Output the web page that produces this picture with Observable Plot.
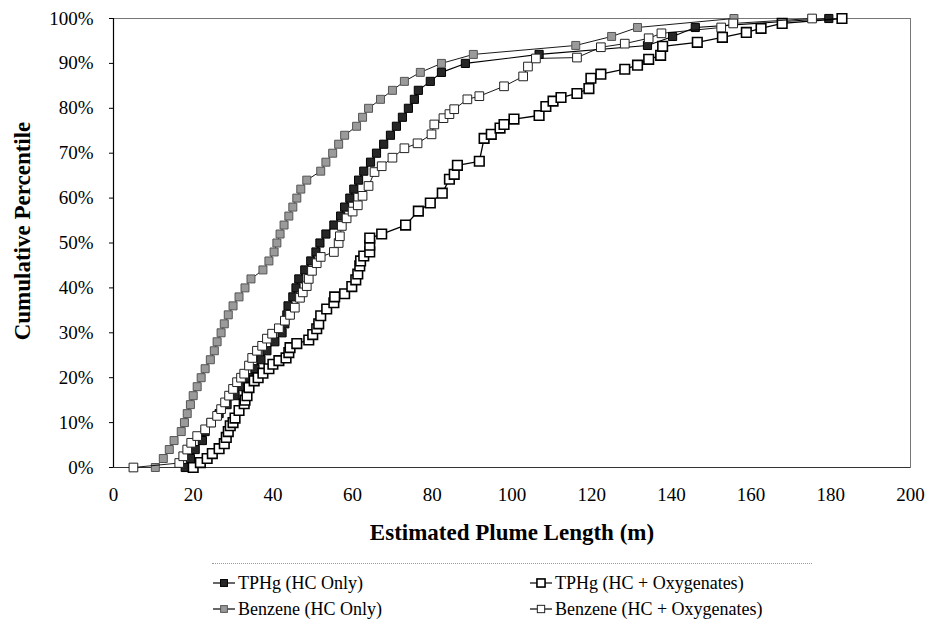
<!DOCTYPE html>
<html><head><meta charset="utf-8">
<script src="https://cdn.jsdelivr.net/npm/d3@7"></script>
<script src="https://cdn.jsdelivr.net/npm/@observablehq/plot@0.6"></script>
<style>
body{margin:0;background:#fff;font-family:"Liberation Serif","Tinos","Times New Roman","DejaVu Serif",serif;color:#000;}
#chart svg, #chart svg text{font-family:"Liberation Serif","Tinos","Times New Roman","DejaVu Serif",serif !important;}
#wrap{position:relative;width:929px;height:626px;overflow:hidden;}
#legend{position:absolute;left:0;top:0;width:929px;height:626px;pointer-events:none;}
.lline{position:absolute;left:212px;top:563px;width:600px;border-top:1px dotted #999;}
.item{position:absolute;font-size:18px;line-height:22px;white-space:nowrap;}
.item svg{position:absolute;left:0;top:5px;}
.item span{position:absolute;left:26px;top:0;}
</style></head><body>
<div id="wrap"><div id="chart"></div><div id="legend"></div></div>
<script>
const seriesNames = ["TPHg (HC Only)", "Benzene (HC Only)", "TPHg (HC + Oxygenates)", "Benzene (HC + Oxygenates)"];
const xTicks = [0,20,40,60,80,100,120,140,160,180,200];
const yTicks = [0,10,20,30,40,50,60,70,80,90,100];

// TPHg (HC Only)
const tphgHcLen = [18,19.3,20.5,22.3,23,24.5,26.5,28.5,30.5,32.3,34,35.5,37,38.5,40.5,42.3,43,43.5,43.8,45,45.8,46.5,48,49.5,50.8,51.8,53.3,55.3,57,58,59.3,60.3,61.5,62.8,64.5,66,67.8,69.5,71,72.5,74,75.5,76.5,79.5,82.3,88.3,106.8,134,140.3,146,179.5];
const tphgHcPct = [0,2,4,6,8,10,12,14,16,18,20,22,24,26,28,30,32,34,36,38,40,42,44,46,48,50,52,54,56,58,60,62,64,66,68,70,72,74,76,78,80,82,84,86,88,90,92,94,96,98,100];

// Benzene (HC Only)
const benzHcLen = [10.5,12.5,14,15.2,17,17.8,18.5,19.3,20,21,22,23,24.3,25.3,26,27,27.8,28.8,30,31.5,33,34.5,37.5,39,40.3,41,41.8,42.8,44,45,46,47,48.5,52,53.3,55,56.5,58,61,62.5,64,67,70,73,77,82.3,90.3,116,125,131.5,155.7];
const benzHcPct = [0,2,4,6,8,10,12,14,16,18,20,22,24,26,28,30,32,34,36,38,40,42,44,46,48,50,52,54,56,58,60,62,64,66,68,70,72,74,76,78,80,82,84,86,88,90,92,94,96,98,100];

// TPHg (HC + Oxygenates)
const tphgOxLen = [20,21.8,23.5,24.8,26.5,27.8,28.3,28.8,29.3,30,30.5,31.5,32.8,33,33.5,34,35.3,36.3,37.5,39,40,41.5,43.3,44,44.3,46,49,50,51,51.5,52,53.5,55.3,55.5,58,59.8,60.8,61.3,61.8,62,62.8,64.3,64.3,64.3,67.3,73.3,76.5,79.5,82.5,84.3,85.5,86.3,91.8,93,94.8,97,98,100.5,106.8,108.5,110.3,112.3,116.3,119.3,119.8,122.3,128.3,131.5,134.3,137.3,137.8,146.5,152.8,158.8,162.5,167.8,182.8];
const tphgOxPct = [0,1.1,2,3.1,4.2,5.3,6.7,8,9.3,10,11,12.7,14.2,15,16,17.8,19.3,20,21,22,23,23.8,24.4,25.6,26.7,27.6,28.4,29.6,30.9,32,33.8,35.3,36.7,38,38.7,40.3,41.8,43.1,44.9,46,47.1,48,49.5,51.1,52,54,57.1,58.9,61.1,64.2,65.3,67.3,68.2,73.3,74.2,75.6,76.4,77.6,78.4,80.4,81.6,82.4,83.3,84.4,86.7,87.6,88.7,89.6,90.9,91.8,93.8,94.7,95.8,96.9,97.8,98.9,100];

// Benzene (HC + Oxygenates)
const benzOxLen = [5,16.5,17.5,18.5,19.5,21,23,24.5,26,27,28,29,30,31,32,32.8,34,34.8,36,37.3,38.5,39.8,41.5,43,44.3,45.5,46.8,47.5,48.5,49,49.8,51,52,55.3,56.5,56.8,57.3,58.5,60,61.3,62.5,64,65.5,67.3,70,73,76.3,79.8,80.5,82.8,84.3,85.5,88.8,91.8,98,102.8,104,106,116.3,122.3,128.3,134.3,137.5,152.5,155.5,175.3];
const benzOxPct = [0,1,2.5,4,5.5,7,8.5,10,11.5,13,14.5,16,17.5,19,20,20.9,22.7,24.4,26,27.1,28.7,29.8,31,32.7,34,35.6,37.8,39,40.4,42,43.8,45.5,46.9,48,50,51.5,53.8,55.5,57,58.4,60.5,62.7,65.8,67.1,69,71.1,72.2,74.2,76.4,77.8,78.7,79.8,82,82.7,84.9,87.1,89.3,91.1,91.3,93.6,94.4,95.6,96.7,98,98.9,100];

const toRows = (name, lens, pcts) => lens.map((len, i) => ({series: name, len, pct: pcts[i]}));
const sets = [
  toRows(seriesNames[0], tphgHcLen, tphgHcPct),
  toRows(seriesNames[1], benzHcLen, benzHcPct),
  toRows(seriesNames[2], tphgOxLen, tphgOxPct),
  toRows(seriesNames[3], benzOxLen, benzOxPct)
];
const styles = [
  {fill: "#262626", stroke: "#000", r: 4.6, sw: 1, lw: 1.1},
  {fill: "#9a9a9a", stroke: "#555", r: 4.5, sw: 1, lw: 0.9},
  {fill: "#fff", stroke: "#000", r: 5.4, sw: 1.6, lw: 1.3},
  {fill: "#fff", stroke: "#222", r: 4.9, sw: 1, lw: 0.9}
];
const serif = '"Liberation Serif","Tinos","Times New Roman","DejaVu Serif",serif';

const marks = [
  Plot.frame({stroke: "#777", strokeWidth: 1}),
  Plot.ruleX([0], {stroke: "#000", strokeWidth: 1.2}),
  Plot.ruleY([0], {stroke: "#333", strokeWidth: 1}),
  Plot.axisY({ticks: yTicks, tickFormat: d => d + "%", tickSize: 4, tickPadding: 16, label: null, fontSize: 19, fontFamily: serif}),
  Plot.axisX({ticks: xTicks, tickFormat: d => String(d), tickSize: 0, tickPadding: 20, label: null, fontSize: 19, fontFamily: serif}),
  Plot.text(["Cumulative Percentile"], {frameAnchor: "left", textAnchor: "middle", dx: -91, dy: -12, rotate: -90, fontSize: 23, fontWeight: "bold", fontFamily: serif}),
  Plot.text(["Estimated Plume Length (m)"], {frameAnchor: "bottom", textAnchor: "middle", dy: 72, fontSize: 23, fontWeight: "bold", fontFamily: serif})
];
sets.forEach((rows, i) => {
  const s = styles[i];
  marks.push(Plot.line(rows, {x: "len", y: "pct", stroke: "#000", strokeWidth: s.lw}));
  marks.push(Plot.dot(rows, {x: "len", y: "pct", symbol: "square", r: s.r, fill: s.fill, stroke: s.stroke, strokeWidth: s.sw}));
});

const chart = Plot.plot({
  width: 929,
  height: 552,
  marginLeft: 113,
  marginRight: 19,
  marginTop: 18,
  marginBottom: 85,
  style: {fontFamily: serif, fontSize: "19px", color: "#000", background: "#fff", overflow: "visible"},
  x: {domain: [0, 200]},
  y: {domain: [0, 100]},
  marks
});
document.getElementById("chart").appendChild(chart);

// Legend (below the chart)
const legend = document.getElementById("legend");
const line = document.createElement("div"); line.className = "lline"; legend.appendChild(line);
const pos = [[212, 572], [212, 598], [529, 572], [529, 598]];
[0, 1, 2, 3].forEach(i => {
  const s = styles[i];
  const el = document.createElement("div");
  el.className = "item";
  el.style.left = pos[i][0] + "px";
  el.style.top = pos[i][1] + "px";
  const side = s.r * 1.5;
  el.innerHTML = `<svg width="24" height="12"><line x1="1" y1="6" x2="23" y2="6" stroke="#000" stroke-width="1.2"/><rect x="${12 - side/2}" y="${6 - side/2}" width="${side}" height="${side}" fill="${s.fill}" stroke="${s.stroke}" stroke-width="${s.sw}"/></svg><span>${seriesNames[i]}</span>`;
  legend.appendChild(el);
});
</script></body></html>
